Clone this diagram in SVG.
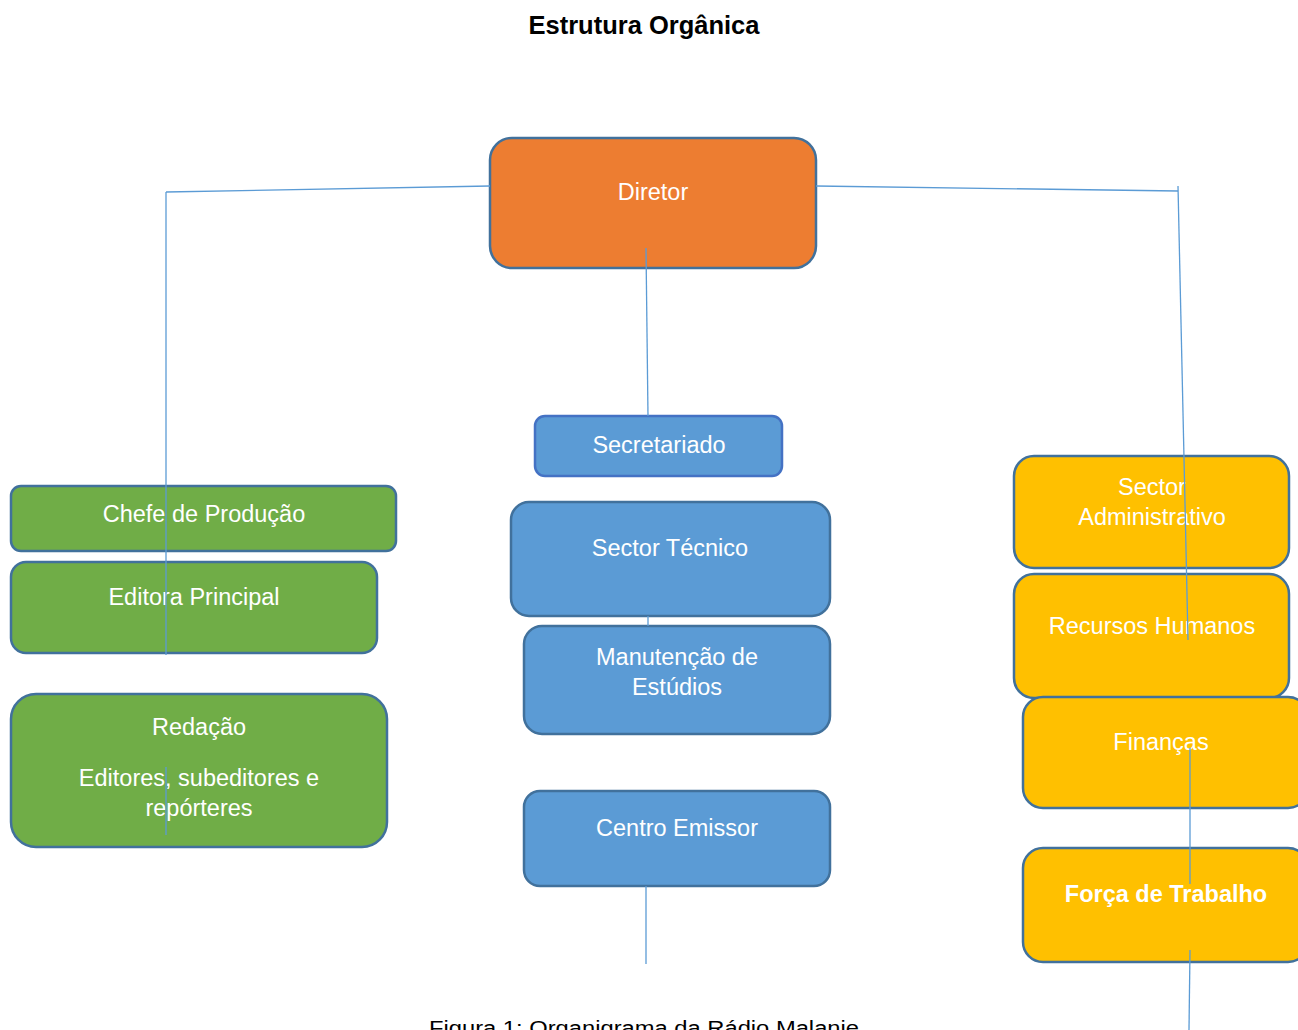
<svg xmlns="http://www.w3.org/2000/svg" width="1298" height="1030" viewBox="0 0 1298 1030">
<style>
.node{stroke:#41719C;stroke-width:2.5}
.org{fill:#ED7D31}
.blu{fill:#5B9BD5}
.grn{fill:#70AD47}
.yel{fill:#FFC000}
.t{font-family:"Liberation Sans",Arial,sans-serif;font-size:23.5px;fill:#FFFFFF;text-anchor:middle}
.b{font-weight:bold}
.conn line{stroke:#5B9BD5;stroke-width:1.3;fill:none}
</style>
<rect width="1298" height="1030" fill="#FFFFFF"/>
<text x="644" y="34" font-family="'Liberation Sans',Arial,sans-serif" font-size="25.5" font-weight="bold" fill="#000" text-anchor="middle">Estrutura Orgânica</text>

<g id="n-diretor"><rect class="node org" x="490" y="138" width="326" height="130" rx="22"/><text class="t" x="653" y="200">Diretor</text></g>
<g id="n-secretariado"><rect class="node blu" x="535" y="416" width="247" height="60" rx="10" style="stroke:#4472C4"/><text class="t" x="659" y="453">Secretariado</text></g>
<g id="n-tecnico"><rect class="node blu" x="511" y="502" width="319" height="114" rx="18"/><text class="t" x="670" y="556">Sector Técnico</text></g>
<g id="n-manutencao"><rect class="node blu" x="524" y="626" width="306" height="108" rx="18"/><text class="t" x="677" y="665">Manutenção de</text><text class="t" x="677" y="695">Estúdios</text></g>
<g id="n-emissor"><rect class="node blu" x="524" y="791" width="306" height="95" rx="16"/><text class="t" x="677" y="836">Centro Emissor</text></g>

<g id="n-chefe"><rect class="node grn" x="11" y="486" width="385" height="65" rx="10"/><text class="t" x="204" y="522">Chefe de Produção</text></g>
<g id="n-editora"><rect class="node grn" x="11" y="562" width="366" height="91" rx="15"/><text class="t" x="194" y="605">Editora Principal</text></g>
<g id="n-redacao"><rect class="node grn" x="11" y="694" width="376" height="153" rx="25"/><text class="t" x="199" y="735">Redação</text><text class="t" x="199" y="786">Editores, subeditores e</text><text class="t" x="199" y="816">repórteres</text></g>

<g id="n-admin"><rect class="node yel" x="1014" y="456" width="275" height="112" rx="20"/><text class="t" x="1152" y="495">Sector</text><text class="t" x="1152" y="525">Administrativo</text></g>
<g id="n-rh"><rect class="node yel" x="1014" y="574" width="275" height="124" rx="20"/><text class="t" x="1152" y="634">Recursos Humanos</text></g>
<g id="n-financas"><rect class="node yel" x="1023" y="697" width="285" height="111" rx="20"/><text class="t" x="1161" y="750">Finanças</text></g>
<g id="n-forca"><rect class="node yel" x="1023" y="848" width="285" height="114" rx="20"/><text class="t b" x="1166" y="902">Força de Trabalho</text></g>

<g id="connectors" class="conn">
<line x1="490" y1="186" x2="166" y2="192"/>
<line x1="166" y1="192" x2="166" y2="655"/>
<line x1="166" y1="767" x2="166" y2="835"/>
<line x1="816" y1="186" x2="1178" y2="191"/>
<line x1="1178" y1="186" x2="1188" y2="640"/>
<line x1="1190" y1="748" x2="1190" y2="884"/>
<line x1="1190" y1="950" x2="1189" y2="1030"/>
<line x1="646" y1="248" x2="648" y2="416"/>
<line x1="648" y1="616" x2="648" y2="626"/>
<line x1="646" y1="886" x2="646" y2="964"/>
</g>

<text x="429" y="1035" font-family="'Liberation Sans',Arial,sans-serif" font-size="20" fill="#000" textLength="430" lengthAdjust="spacingAndGlyphs">Figura 1: Organigrama da Rádio Malanje</text>
</svg>
